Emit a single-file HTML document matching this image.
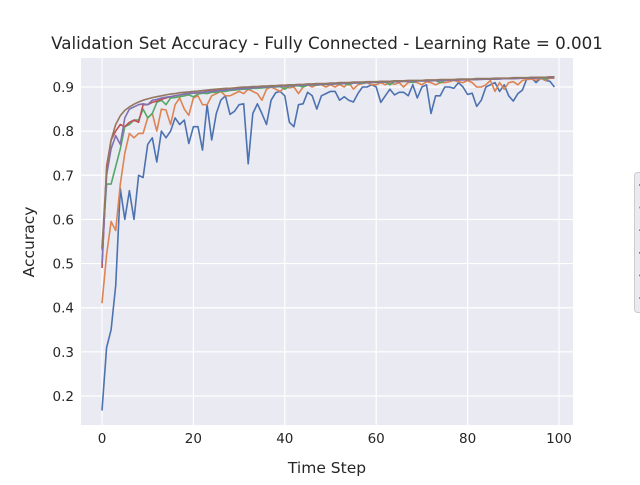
<!DOCTYPE html>
<html><head><meta charset="utf-8"><style>
body{margin:0;background:#fff;}
svg text{font-family:"DejaVu Sans","Liberation Sans",sans-serif;fill:#262626;}
</style></head><body>
<svg id="chart" width="640" height="480" xmlns="http://www.w3.org/2000/svg">
<rect x="81" y="58" width="492" height="367" fill="#eaeaf2"/>
<g id="grid"></g>
<g id="series"></g>
<text x="327" y="49" text-anchor="middle" font-size="16.7">Validation Set Accuracy - Fully Connected - Learning Rate = 0.001</text>
<text x="327" y="473" text-anchor="middle" font-size="15.5">Time Step</text>
<text x="34" y="242" text-anchor="middle" font-size="15.5" transform="rotate(-90 34 242)">Accuracy</text>
<g>
<rect x="634.5" y="172.5" width="20" height="140" rx="3" fill="#eaeaf2" stroke="#cccccc"/>
<g id="legend-items"></g>
</g>
</svg>
<script>
const xTicks=[0,20,40,60,80,100];
const yTicks=[0.2,0.3,0.4,0.5,0.6,0.7,0.8,0.9];
const yTickLabels=["0.2","0.3","0.4","0.5","0.6","0.7","0.8","0.9"];
const blue=[0.167,0.31,0.35,0.45,0.67,0.6,0.665,0.6,0.70,0.695,0.77,0.785,0.73,0.8,0.785,0.8,0.83,0.815,0.825,0.772,0.81,0.81,0.757,0.86,0.78,0.84,0.87,0.88,0.838,0.845,0.86,0.862,0.726,0.84,0.862,0.84,0.815,0.87,0.887,0.89,0.88,0.82,0.81,0.86,0.862,0.888,0.88,0.85,0.88,0.885,0.89,0.89,0.87,0.878,0.87,0.866,0.885,0.9,0.9,0.905,0.9,0.865,0.88,0.895,0.882,0.888,0.888,0.88,0.905,0.875,0.9,0.905,0.84,0.88,0.88,0.9,0.9,0.897,0.91,0.9,0.883,0.886,0.856,0.87,0.9,0.905,0.91,0.89,0.905,0.88,0.868,0.885,0.893,0.92,0.92,0.91,0.92,0.915,0.913,0.9];
const orange=[0.41,0.52,0.595,0.575,0.68,0.75,0.795,0.785,0.795,0.795,0.83,0.84,0.8,0.85,0.848,0.815,0.86,0.875,0.85,0.836,0.875,0.88,0.86,0.86,0.88,0.885,0.89,0.88,0.88,0.885,0.89,0.885,0.895,0.89,0.885,0.87,0.895,0.9,0.895,0.89,0.9,0.898,0.9,0.885,0.9,0.905,0.9,0.905,0.905,0.9,0.905,0.9,0.906,0.9,0.91,0.895,0.905,0.908,0.91,0.905,0.905,0.91,0.905,0.91,0.906,0.91,0.9,0.91,0.912,0.91,0.905,0.912,0.91,0.905,0.91,0.91,0.912,0.915,0.912,0.91,0.915,0.91,0.9,0.9,0.905,0.915,0.89,0.91,0.895,0.91,0.912,0.905,0.915,0.917,0.918,0.915,0.92,0.915,0.92,0.92];
const green=[0.53,0.68,0.68,0.72,0.76,0.81,0.815,0.825,0.825,0.85,0.83,0.84,0.865,0.87,0.86,0.875,0.876,0.878,0.88,0.882,0.878,0.884,0.886,0.885,0.888,0.888,0.89,0.89,0.892,0.893,0.894,0.895,0.895,0.897,0.897,0.898,0.899,0.9,0.9,0.901,0.895,0.902,0.902,0.903,0.9,0.904,0.905,0.904,0.906,0.906,0.906,0.907,0.907,0.908,0.905,0.909,0.909,0.908,0.91,0.91,0.91,0.911,0.911,0.905,0.912,0.912,0.913,0.913,0.91,0.914,0.914,0.914,0.915,0.915,0.91,0.915,0.916,0.916,0.916,0.917,0.917,0.917,0.917,0.918,0.918,0.918,0.918,0.919,0.919,0.919,0.919,0.92,0.92,0.92,0.92,0.921,0.921,0.918,0.922,0.922];
const red=[0.49,0.72,0.78,0.8,0.815,0.81,0.82,0.825,0.82,0.86,0.86,0.865,0.868,0.872,0.875,0.878,0.88,0.882,0.884,0.885,0.886,0.887,0.888,0.89,0.891,0.892,0.893,0.894,0.895,0.896,0.897,0.897,0.898,0.899,0.9,0.9,0.901,0.901,0.902,0.902,0.903,0.903,0.904,0.904,0.905,0.905,0.906,0.906,0.907,0.907,0.907,0.908,0.908,0.909,0.909,0.909,0.91,0.91,0.91,0.911,0.911,0.911,0.912,0.912,0.912,0.913,0.913,0.913,0.914,0.914,0.914,0.914,0.915,0.915,0.915,0.916,0.916,0.916,0.916,0.917,0.917,0.917,0.917,0.918,0.918,0.918,0.918,0.919,0.919,0.919,0.919,0.92,0.92,0.92,0.92,0.921,0.921,0.921,0.921,0.922];
const purple=[0.5,0.7,0.76,0.79,0.77,0.83,0.85,0.855,0.86,0.862,0.86,0.87,0.872,0.875,0.877,0.878,0.88,0.882,0.884,0.885,0.886,0.887,0.888,0.889,0.89,0.891,0.892,0.893,0.894,0.895,0.896,0.897,0.897,0.898,0.899,0.9,0.9,0.901,0.901,0.902,0.902,0.903,0.903,0.904,0.904,0.905,0.905,0.906,0.906,0.907,0.907,0.907,0.908,0.908,0.909,0.909,0.909,0.91,0.91,0.91,0.911,0.911,0.911,0.912,0.912,0.912,0.913,0.913,0.913,0.914,0.914,0.914,0.914,0.915,0.915,0.915,0.916,0.916,0.916,0.916,0.917,0.917,0.917,0.917,0.918,0.918,0.918,0.918,0.919,0.919,0.919,0.919,0.92,0.92,0.92,0.92,0.921,0.921,0.921,0.922];
const brown=[0.535,0.71,0.78,0.815,0.835,0.847,0.855,0.861,0.866,0.87,0.873,0.876,0.878,0.88,0.882,0.884,0.885,0.887,0.888,0.889,0.89,0.891,0.892,0.893,0.894,0.895,0.896,0.897,0.897,0.898,0.899,0.9,0.9,0.901,0.901,0.902,0.902,0.903,0.903,0.904,0.904,0.905,0.905,0.906,0.906,0.907,0.907,0.908,0.908,0.908,0.909,0.909,0.91,0.91,0.91,0.911,0.911,0.911,0.912,0.912,0.912,0.913,0.913,0.913,0.914,0.914,0.914,0.915,0.915,0.915,0.915,0.916,0.916,0.916,0.917,0.917,0.917,0.917,0.918,0.918,0.918,0.918,0.919,0.919,0.919,0.919,0.92,0.92,0.92,0.92,0.921,0.921,0.921,0.921,0.922,0.922,0.922,0.922,0.923,0.923];
const seriesNames=["blue","orange","green","red","purple","brown"];
const seriesData=[blue,orange,green,red,purple,brown];
const colors=["#4c72b0","#dd8452","#55a868","#c44e52","#8172b3","#937860"];
const NS="http://www.w3.org/2000/svg";
const X=v=>102+(v-0)*(559-102)/100;
const Y=v=>396-(v-0.2)*(396-87)/0.7;
const grid=document.getElementById('grid');
function mk(tag,attrs,parent){const e=document.createElementNS(NS,tag);for(const k in attrs)e.setAttribute(k,attrs[k]);parent.appendChild(e);return e;}
xTicks.forEach(t=>{
 const l=mk('line',{x1:X(t),x2:X(t),y1:58,y2:425,stroke:'#fff','stroke-width':1.2},grid);
 
 
 const tx=mk('text',{x:X(t),y:443,'text-anchor':'middle','font-size':13.5},grid);
 tx.textContent=t;
 
 
});
yTicks.forEach((t,i)=>{
 const l=mk('line',{x1:81,x2:573,y1:Y(t),y2:Y(t),stroke:'#fff','stroke-width':1.2},grid);
 
 
 const tx=mk('text',{x:74,y:Y(t)+5,'text-anchor':'end','font-size':13.5},grid);
 tx.textContent=yTickLabels[i];
 
 
});
const sg=document.getElementById('series');
seriesData.forEach((d,s)=>{
 const pts=d.map((v,i)=>X(i).toFixed(1)+','+Y(v).toFixed(1)).join(' ');
 const p=mk('polyline',{points:pts,fill:'none',stroke:colors[s],'stroke-width':1.6,'stroke-linejoin':'round'},sg);
 
 
});
const lg=document.getElementById('legend-items');
colors.forEach((c,i)=>{
 const l=mk('line',{x1:639,x2:660,y1:185+i*22.6,y2:185+i*22.6,stroke:c,'stroke-width':1.6},lg);
 
 
});
</script>
</body></html>
